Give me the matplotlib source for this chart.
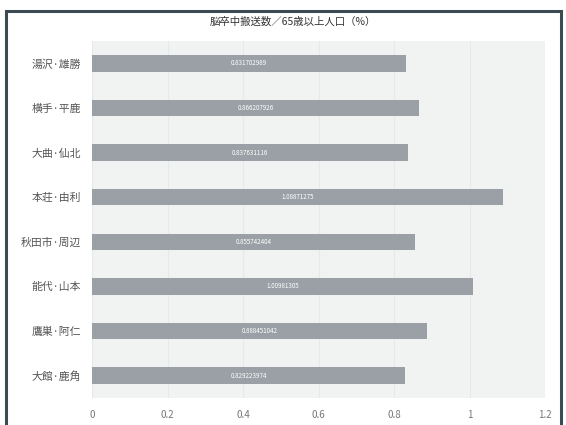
import matplotlib.pyplot as plt
from matplotlib.patches import Rectangle

plt.rcParams['font.family'] = ['Noto Sans CJK JP', 'DejaVu Sans']

# 二次医療圏（上から順）
areas = ['湯沢·雄勝', '横手·平鹿', '大曲·仙北', '本荘·由利',
         '秋田市·周辺', '能代·山本', '鷹巣·阿仁', '大館·鹿角']
ratios = [0.831702989, 0.866207926, 0.837631116, 1.088712753,
          0.855742404, 1.009813052, 0.888451042, 0.829223974]
xticks = [0, 0.2, 0.4, 0.6, 0.8, 1, 1.2]
xtick_labels = ['0', '0.2', '0.4', '0.6', '0.8', '1', '1.2']
title = '脳卒中搬送数／65歳以上人口（%）'

fig = plt.figure(figsize=(5.66, 4.25), dpi=100)
fig.patch.set_facecolor('white')

# 外枠
fig.patches.append(Rectangle((6 / 566, -0.01), 555 / 566, 1 - 11 / 425 + 0.01,
                             transform=fig.transFigure, fill=False,
                             edgecolor='#3c4a52', linewidth=2.2))

ax = fig.add_axes([92 / 566, 1 - 398 / 425, 453 / 566, 357 / 425])
ax.set_facecolor('#f1f3f3')

pos = list(range(len(areas)))
ax.barh(pos, ratios, height=0.37, color='#9aa0a5', zorder=2)
for y, v in zip(pos, ratios):
    ax.text(v / 2, y, f'{v:.9g}', ha='center', va='center',
            fontsize=4.5, color='white', zorder=3)

ax.set_xlim(0, 1.2)
ax.set_ylim(len(areas) - 0.5, -0.5)
ax.set_xticks(xticks)
ax.set_xticklabels(xtick_labels, fontsize=7, color='#777777')
ax.set_yticks(pos)
ax.set_yticklabels(areas, fontsize=7.8, color='#555555')
ax.tick_params(length=0, pad=8)
ax.tick_params(axis='x', pad=9)
ax.grid(axis='x', color='#e6e9ea', linewidth=0.8, zorder=0)
for s in ax.spines.values():
    s.set_visible(False)

fig.text(293 / 566, 1 - 22 / 425, title, ha='center', va='center',
         fontsize=7.5, color='#333333')

fig.savefig('out.png', dpi=100)
